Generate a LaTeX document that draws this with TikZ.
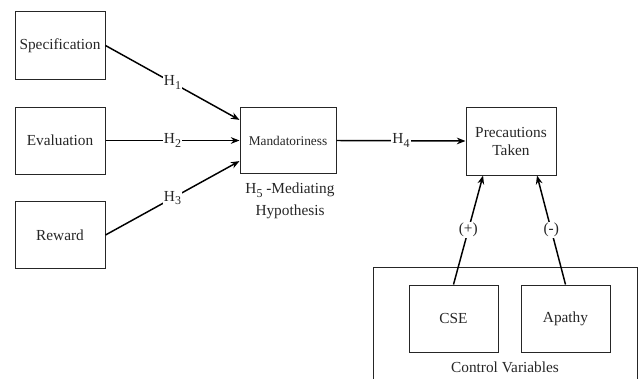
\documentclass[tikz,border=0pt]{standalone}
\usepackage{fontspec}
\setmainfont{Liberation Serif}
\usetikzlibrary{arrows.meta}

\newcommand{\hsub}[1]{H\raisebox{-0.55ex}{\fontsize{9}{9}\selectfont #1}}

\tikzset{every picture/.style={line width=0.75pt}}
\tikzset{
	varbox/.style={draw=black!85, text=black!85, minimum width=67.5pt, minimum height=50.25pt, align=center, inner sep=2pt, font=\fontsize{11.5}{13.5}\selectfont},
	hyparrow/.style={draw=black, line width=1.1pt, -{Stealth[length=6.5pt,width=5pt]}},
	hyplabel/.style={fill=white, text=black!85, inner sep=1pt, font=\fontsize{11.5}{13.5}\selectfont}}

\begin{document}
\begin{tikzpicture}[x=0.75pt,y=0.75pt,yscale=-1,xscale=1]
	\useasboundingbox (0,0) rectangle (638,378);

	%Shape: Rectangle
	\node [varbox] (spec) at (60,45.5) {Specification};
	%Shape: Rectangle
	\node [varbox] (eval) at (60,140.5) {Evaluation};
	%Shape: Rectangle
	\node [varbox] (reward) at (60,235) {Reward};
	%Shape: Rectangle
	\node [varbox, minimum width=72pt, minimum height=49.5pt, font=\fontsize{10}{12}\selectfont] (mand) at (288,140.5) {Mandatoriness};
	%Shape: Rectangle
	\node [varbox, minimum height=51pt] (prec) at (511,141) {Precautions\\Taken};

	%Shape: Control box (open at the bottom)
	\draw [draw=black!85] (373,380) -- (373,267) -- (637,267) -- (637,380) ;
	%Shape: Rectangle
	\node [varbox, minimum width=66.75pt] (cse) at (453.5,318.5) {CSE};
	%Shape: Rectangle
	\node [varbox, minimum width=66.75pt] (apathy) at (565.5,318.5) {Apathy};

	%Straight Lines
	\draw [hyparrow] (spec.east) -- (mand.157) node [hyplabel, midway] {\hsub{1}};
	\draw [hyparrow] (eval.east) -- (mand.west) node [hyplabel, midway] {\hsub{2}};
	\draw [hyparrow] (reward.east) -- (mand.203) node [hyplabel, midway] {\hsub{3}};
	\draw [hyparrow] (mand.east) -- (prec.west) node [hyplabel, midway] {\hsub{4}};
	\draw [hyparrow] (cse.north) -- (prec.231) node [hyplabel, midway] {(+)};
	\draw [hyparrow] (apathy.north) -- (prec.307) node [hyplabel, midway] {(-)};

	% Text Node
	\node [text=black!85, align=center, font=\fontsize{11.5}{16.5}\selectfont] (medtext) at (290,201) {\hsub{5} -Mediating\\Hypothesis};
	% Text Node
	\node [text=black!85, font=\fontsize{11.5}{13.5}\selectfont] (ctrltext) at (505,367) {Control Variables};

\end{tikzpicture}
\end{document}
